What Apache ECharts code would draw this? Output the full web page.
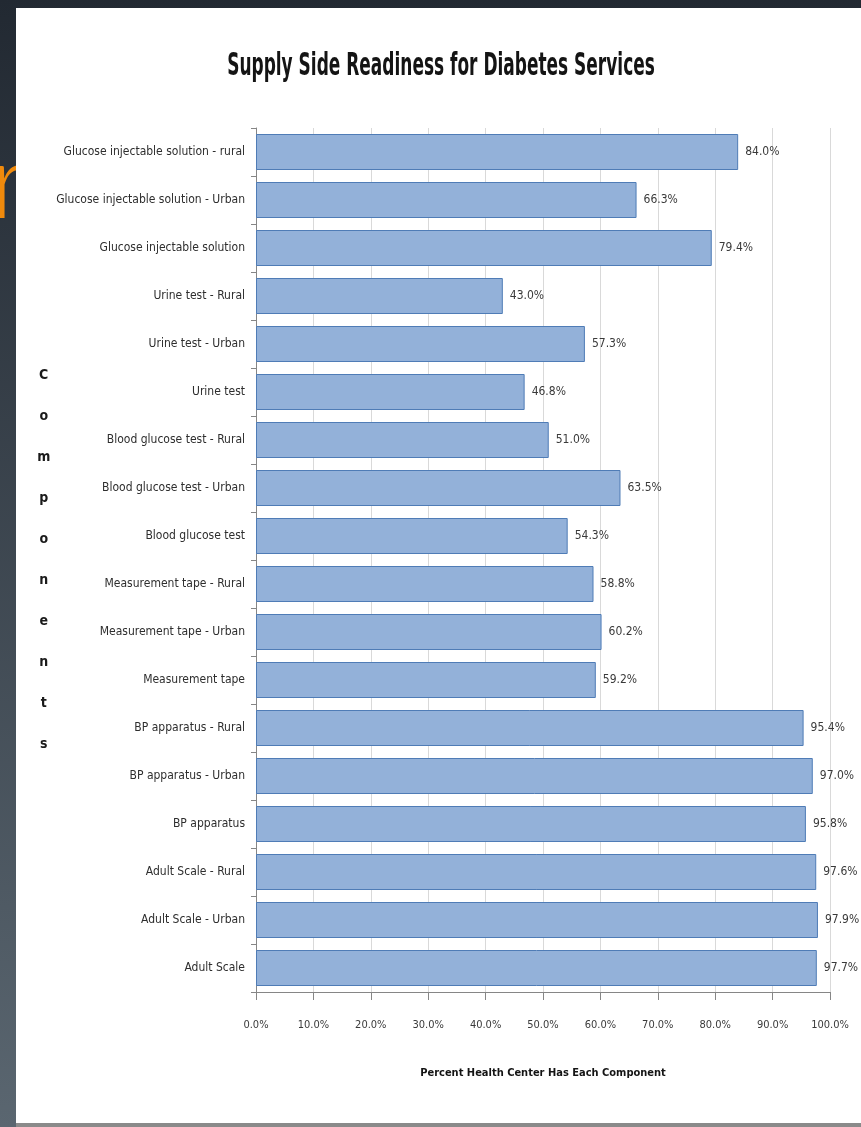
<!DOCTYPE html>
<html>
<head>
<meta charset="utf-8">
<script src="https://cdn.jsdelivr.net/npm/echarts@6/dist/echarts.min.js"></script>
<style>
  html, body { margin: 0; padding: 0; background: #232a33; }
  #chart { width: 861px; height: 1127px; }
</style>
</head>
<body>
<div id="chart"></div>
<script>
// Components surveyed, top to bottom
const categories = [
  'Glucose injectable solution - rural',
  'Glucose injectable solution - Urban',
  'Glucose injectable solution',
  'Urine test - Rural',
  'Urine test - Urban',
  'Urine test',
  'Blood glucose test - Rural',
  'Blood glucose test - Urban',
  'Blood glucose test',
  'Measurement tape - Rural',
  'Measurement tape - Urban',
  'Measurement tape',
  'BP apparatus - Rural',
  'BP apparatus - Urban',
  'BP apparatus',
  'Adult Scale - Rural',
  'Adult Scale - Urban',
  'Adult Scale'
];

// Percent of health centers having each component
const percentValues = [
  84.0, 66.3, 79.4,
  43.0, 57.3, 46.8,
  51.0, 63.5, 54.3,
  58.8, 60.2, 59.2,
  95.4, 97.0, 95.8,
  97.6, 97.9, 97.7
];

// Value axis ticks (percent)
const xTicks = [0, 10, 20, 30, 40, 50, 60, 70, 80, 90, 100];

const CHART_TITLE = 'Supply Side Readiness for Diabetes Services';
const X_TITLE = 'Percent Health Center Has Each Component';
const Y_TITLE = 'Components';

const NARROW = '"DejaVu Sans Condensed", "Liberation Sans Narrow", sans-serif';

const chart = echarts.init(document.getElementById('chart'), null, { renderer: 'canvas' });

chart.setOption({
  backgroundColor: 'transparent',
  animation: false,
  graphic: [
    // slide backdrop
    {
      type: 'rect', z: -30, silent: true,
      shape: { x: 0, y: 0, width: 861, height: 1127 },
      style: {
        fill: new echarts.graphic.LinearGradient(0, 0, 0, 1, [
          { offset: 0, color: '#222932' },
          { offset: 1, color: '#5a6670' }
        ])
      }
    },
    {
      type: 'text', z: -25, silent: true,
      x: -9, y: 132,
      style: {
        text: 'r', fill: '#f08a0c',
        font: '300 104px Lato, "Open Sans", sans-serif',
        verticalAlign: 'top'
      }
    },
    // white chart panel
    {
      type: 'rect', z: -20, silent: true,
      shape: { x: 16, y: 8, width: 845, height: 1119 },
      style: { fill: '#ffffff' }
    },
    {
      type: 'rect', z: -19, silent: true,
      shape: { x: 16, y: 1123, width: 845, height: 4 },
      style: { fill: '#8a8a8a' }
    },
    // condensed headline
    {
      type: 'text', z: 10, silent: true,
      x: 441, y: 67,
      scaleX: 0.59,
      style: {
        text: CHART_TITLE,
        fill: '#141414',
        font: 'bold 32px "DejaVu Sans Condensed", "DejaVu Sans", sans-serif',
        align: 'center',
        verticalAlign: 'middle'
      }
    }
  ],
  grid: {
    left: 256,
    right: 31,
    top: 128,
    bottom: 135,
    containLabel: false
  },
  xAxis: {
    type: 'value',
    min: 0,
    max: 100,
    interval: 10,
    name: X_TITLE,
    nameLocation: 'middle',
    nameGap: 81,
    nameTextStyle: {
      fontFamily: NARROW,
      fontWeight: 'bold',
      fontSize: 11,
      color: '#141414',
      verticalAlign: 'middle'
    },
    axisLine: { show: true, lineStyle: { color: '#868686', width: 1 } },
    axisTick: { show: true, length: 8, lineStyle: { color: '#868686' } },
    splitLine: { show: true, lineStyle: { color: '#d9d9d9', width: 1 } },
    axisLabel: {
      margin: 28,
      fontFamily: NARROW,
      fontSize: 11,
      color: '#3a3a3a',
      formatter: v => (xTicks.includes(v) ? v.toFixed(1) + '%' : '')
    }
  },
  yAxis: {
    type: 'category',
    data: categories,
    inverse: true,
    name: Y_TITLE.split('').join('\n'),
    nameLocation: 'middle',
    nameRotate: 0,
    nameGap: 188,
    nameTextStyle: {
      fontFamily: NARROW,
      fontWeight: 'bold',
      fontSize: 14,
      lineHeight: 41,
      color: '#1a1a1a',
      align: 'center',
      verticalAlign: 'middle'
    },
    axisLine: { show: true, lineStyle: { color: '#868686', width: 1 } },
    axisTick: { show: true, length: 5, alignWithLabel: false, lineStyle: { color: '#868686' } },
    splitLine: { show: false },
    axisLabel: {
      margin: 11,
      fontFamily: NARROW,
      fontSize: 12,
      color: '#2e2e2e'
    }
  },
  series: [
    {
      type: 'bar',
      data: percentValues,
      barCategoryGap: '25%',
      itemStyle: {
        color: '#93b1d9',
        borderColor: '#4f7cb6',
        borderWidth: 1
      },
      label: {
        show: true,
        position: 'right',
        distance: 7,
        fontFamily: NARROW,
        fontSize: 12,
        color: '#3a3a3a',
        formatter: p => p.value.toFixed(1) + '%'
      }
    }
  ]
});
</script>
</body>
</html>
